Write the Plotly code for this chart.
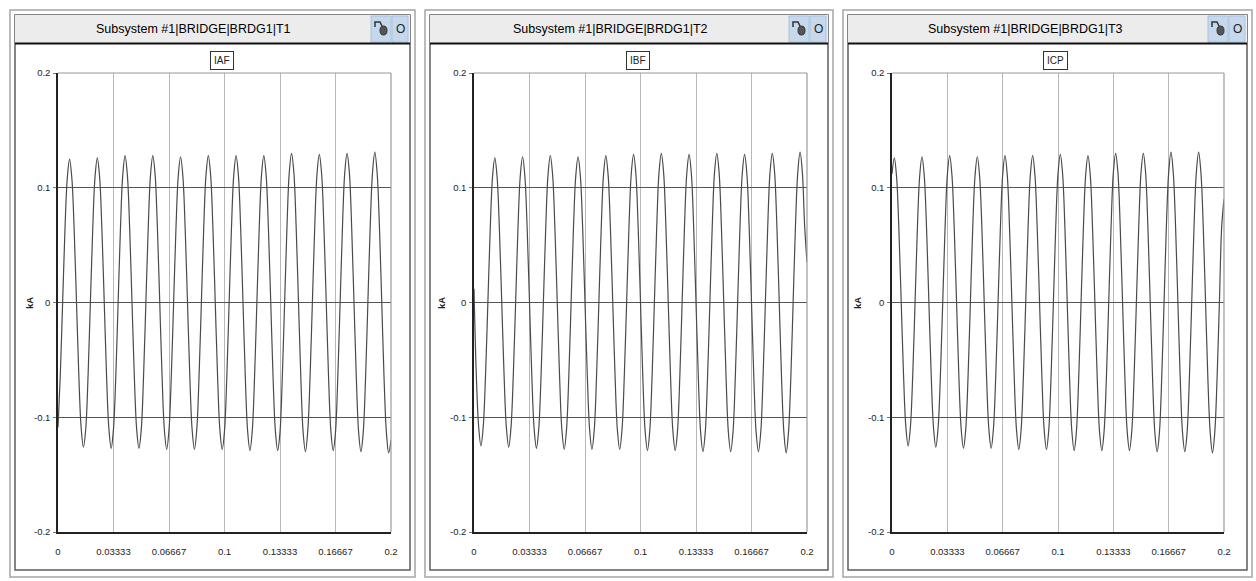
import plotly.graph_objects as go

# ---------------- data (kA), sampled every 1/720 s from 0 to 0.2 s ----------------
sample_step_s = 1 / 720
iaf_kA = [
    -0.109, -0.063, 0.000, 0.063, 0.108, 0.125, 0.108, 0.063, 0.000, -0.063, -0.109, -0.126,
    -0.110, -0.064, 0.000, 0.063, 0.109, 0.126, 0.109, 0.063, 0.000, -0.064, -0.110, -0.127,
    -0.110, -0.064, 0.000, 0.064, 0.111, 0.128, 0.111, 0.064, 0.000, -0.064, -0.110, -0.127,
    -0.111, -0.064, 0.000, 0.064, 0.111, 0.128, 0.111, 0.064, 0.000, -0.064, -0.111, -0.128,
    -0.111, -0.064, 0.000, 0.064, 0.110, 0.127, 0.110, 0.064, 0.000, -0.064, -0.111, -0.128,
    -0.111, -0.064, 0.000, 0.064, 0.111, 0.128, 0.111, 0.064, 0.000, -0.064, -0.111, -0.128,
    -0.112, -0.065, 0.000, 0.064, 0.111, 0.128, 0.111, 0.064, 0.000, -0.065, -0.112, -0.129,
    -0.112, -0.065, 0.000, 0.064, 0.111, 0.128, 0.111, 0.064, 0.000, -0.065, -0.112, -0.129,
    -0.113, -0.065, 0.000, 0.065, 0.113, 0.130, 0.113, 0.065, 0.000, -0.065, -0.113, -0.130,
    -0.112, -0.065, 0.000, 0.065, 0.112, 0.129, 0.112, 0.065, 0.000, -0.065, -0.112, -0.129,
    -0.113, -0.065, 0.000, 0.065, 0.113, 0.130, 0.113, 0.065, 0.000, -0.065, -0.113, -0.130,
    -0.113, -0.066, 0.000, 0.066, 0.113, 0.131, 0.113, 0.066, 0.000, -0.066, -0.113, -0.131,
    -0.120,
]
ibf_kA = [
    0.012, -0.063, -0.108, -0.125, -0.108, -0.063, 0.000, 0.063, 0.109, 0.126, 0.109, 0.063,
    0.000, -0.063, -0.109, -0.126, -0.109, -0.063, 0.000, 0.064, 0.110, 0.127, 0.110, 0.064,
    0.000, -0.064, -0.110, -0.127, -0.110, -0.064, 0.000, 0.064, 0.111, 0.128, 0.111, 0.064,
    0.000, -0.064, -0.111, -0.128, -0.111, -0.064, 0.000, 0.064, 0.110, 0.127, 0.110, 0.064,
    0.000, -0.064, -0.111, -0.128, -0.111, -0.064, 0.000, 0.064, 0.111, 0.128, 0.111, 0.064,
    0.000, -0.064, -0.111, -0.128, -0.111, -0.064, 0.000, 0.065, 0.112, 0.129, 0.112, 0.065,
    0.000, -0.065, -0.112, -0.129, -0.112, -0.065, 0.000, 0.065, 0.113, 0.130, 0.113, 0.065,
    0.000, -0.065, -0.112, -0.129, -0.112, -0.065, 0.000, 0.065, 0.112, 0.129, 0.112, 0.065,
    0.000, -0.065, -0.113, -0.130, -0.113, -0.065, 0.000, 0.065, 0.113, 0.130, 0.113, 0.065,
    0.000, -0.065, -0.113, -0.130, -0.113, -0.065, 0.000, 0.065, 0.112, 0.129, 0.112, 0.065,
    0.000, -0.065, -0.113, -0.130, -0.113, -0.065, 0.000, 0.065, 0.113, 0.130, 0.113, 0.065,
    0.000, -0.066, -0.113, -0.131, -0.113, -0.066, 0.000, 0.066, 0.113, 0.131, 0.113, 0.066,
    0.035,
]
icp_kA = [
    0.112, 0.126, 0.109, 0.063, 0.000, -0.063, -0.108, -0.125, -0.108, -0.063, 0.000, 0.064,
    0.110, 0.127, 0.110, 0.064, 0.000, -0.063, -0.109, -0.126, -0.109, -0.063, 0.000, 0.064,
    0.111, 0.128, 0.111, 0.064, 0.000, -0.064, -0.110, -0.127, -0.110, -0.064, 0.000, 0.064,
    0.110, 0.127, 0.110, 0.064, 0.000, -0.064, -0.110, -0.127, -0.110, -0.064, 0.000, 0.064,
    0.111, 0.128, 0.111, 0.064, 0.000, -0.064, -0.111, -0.128, -0.111, -0.064, 0.000, 0.064,
    0.111, 0.128, 0.111, 0.064, 0.000, -0.064, -0.111, -0.128, -0.111, -0.064, 0.000, 0.065,
    0.112, 0.129, 0.112, 0.065, 0.000, -0.065, -0.112, -0.129, -0.112, -0.065, 0.000, 0.064,
    0.111, 0.128, 0.111, 0.064, 0.000, -0.065, -0.112, -0.129, -0.112, -0.065, 0.000, 0.065,
    0.113, 0.130, 0.113, 0.065, 0.000, -0.065, -0.112, -0.129, -0.112, -0.065, 0.000, 0.065,
    0.113, 0.130, 0.113, 0.065, 0.000, -0.065, -0.113, -0.130, -0.113, -0.065, 0.000, 0.066,
    0.113, 0.131, 0.113, 0.066, 0.000, -0.065, -0.113, -0.130, -0.113, -0.065, 0.000, 0.066,
    0.113, 0.131, 0.113, 0.066, 0.000, -0.066, -0.113, -0.131, -0.113, -0.066, 0.000, 0.066,
    0.090,
]
time_s = [i * sample_step_s for i in range(len(iaf_kA))]

panel_titles = ["Subsystem #1|BRIDGE|BRDG1|T1", "Subsystem #1|BRIDGE|BRDG1|T2", "Subsystem #1|BRIDGE|BRDG1|T3"]
signal_names = ["IAF", "IBF", "ICP"]
signals = [iaf_kA, ibf_kA, icp_kA]
x_tick_vals = [0, 1 / 30, 2 / 30, 0.1, 4 / 30, 5 / 30, 0.2]
x_tick_text = ["0", "0.03333", "0.06667", "0.1", "0.13333", "0.16667", "0.2"]
y_tick_vals = [-0.2, -0.1, 0, 0.1, 0.2]
y_tick_text = ["-0.2", "-0.1", "0", "0.1", "0.2"]
y_unit = "kA"

# ---------------- layout geometry (pixels) ----------------
W, H = 1256, 581
def fx(p):
    return p / W
def fy(p):
    return 1 - p / H

plot_x = [(58, 391), (474, 807), (892, 1224)]
plot_y = (73, 532)
frames = [(10, 415), (425, 833), (843, 1252)]
title_cx = [193, 610, 1025]
unit_x = [30, 442, 858]

FONT = "Liberation Sans, Arial, sans-serif"

fig = go.Figure()
shapes = []
annotations = []

def note(x, y, text, size, **kw):
    d = dict(xref="paper", yref="paper", x=fx(x), y=fy(y), text=text, showarrow=False,
             xanchor="center", yanchor="middle", font=dict(family=FONT, size=size, color="#222"))
    d.update(kw)
    annotations.append(d)

for i in range(3):
    ax = "" if i == 0 else str(i + 1)
    fig.add_trace(go.Scatter(
        x=time_s, y=signals[i], mode="lines", name=signal_names[i],
        line=dict(color="#4a4a4a", width=1.2, shape="spline", smoothing=1.0),
        xaxis="x" + ax, yaxis="y" + ax, showlegend=False, hoverinfo="skip",
    ))
    fig.update_layout(**{
        "xaxis" + ax: dict(
            domain=[fx(plot_x[i][0]), fx(plot_x[i][1])], range=[0, 0.2], anchor="y" + ax,
            automargin=False,
            tickvals=x_tick_vals, ticktext=x_tick_text, ticks="", ticklabelstandoff=10,
            tickfont=dict(family=FONT, size=9.5, color="#222"),
            showgrid=True, gridcolor="#b8b8b8", gridwidth=1,
            showline=True, linecolor="#222", linewidth=1.5, zeroline=False, fixedrange=True,
        ),
        "yaxis" + ax: dict(
            domain=[fy(plot_y[1]), fy(plot_y[0])], range=[-0.2, 0.2], anchor="x" + ax,
            automargin=False,
            tickvals=y_tick_vals, ticktext=y_tick_text, ticks="outside", ticklen=3, tickcolor="#777",
            ticklabelstandoff=1,
            tickfont=dict(family=FONT, size=9.5, color="#222"),
            showgrid=True, gridcolor="#555", gridwidth=1,
            zeroline=True, zerolinecolor="#555", zerolinewidth=1,
            showline=True, linecolor="#222", linewidth=1.5, fixedrange=True,
        ),
    })

    # plot box top/right edges (gray)
    shapes.append(dict(type="line", xref="paper", yref="paper", x0=fx(plot_x[i][0]), x1=fx(plot_x[i][1]),
                       y0=fy(plot_y[0]), y1=fy(plot_y[0]), line=dict(color="#9a9a9a", width=1.2), layer="above"))
    shapes.append(dict(type="line", xref="paper", yref="paper", x0=fx(plot_x[i][1]), x1=fx(plot_x[i][1]),
                       y0=fy(plot_y[0]), y1=fy(plot_y[1]), line=dict(color="#9a9a9a", width=1.2), layer="above"))

    # window frame (double line)
    L, R = frames[i]
    shapes.append(dict(type="rect", xref="paper", yref="paper", x0=fx(L), x1=fx(R), y0=fy(577), y1=fy(10),
                       line=dict(color="#a5a5a5", width=1.5), layer="below"))
    shapes.append(dict(type="rect", xref="paper", yref="paper", x0=fx(L + 5), x1=fx(R - 5), y0=fy(570), y1=fy(15),
                       line=dict(color="#5c5c5c", width=1.5), layer="below"))
    # title bar
    shapes.append(dict(type="rect", xref="paper", yref="paper", x0=fx(L + 5), x1=fx(R - 5), y0=fy(43), y1=fy(15),
                       fillcolor="#ececec", line=dict(width=0), layer="below"))
    shapes.append(dict(type="line", xref="paper", yref="paper", x0=fx(L + 5), x1=fx(R - 5), y0=fy(43.5), y1=fy(43.5),
                       line=dict(color="#111", width=2), layer="above"))
    # title bar icons
    shapes.append(dict(type="rect", xref="paper", yref="paper", x0=fx(R - 44), x1=fx(R - 24), y0=fy(42), y1=fy(16),
                       fillcolor="#c6d9ec", line=dict(color="#aac2dc", width=1), layer="below"))
    shapes.append(dict(type="rect", xref="paper", yref="paper", x0=fx(R - 23), x1=fx(R - 7), y0=fy(42), y1=fy(16),
                       fillcolor="#c6d9ec", line=dict(color="#aac2dc", width=1), layer="below"))
    shapes.append(dict(type="circle", xref="paper", yref="paper", x0=fx(R - 35), x1=fx(R - 28), y0=fy(35), y1=fy(26),
                       fillcolor="#555", line=dict(color="#333", width=1), layer="above"))
    shapes.append(dict(type="path", xref="paper", yref="paper",
                       path=f"M {fx(R-40)} {fy(27)} L {fx(R-40)} {fy(22)} L {fx(R-35)} {fy(22)} L {fx(R-33)} {fy(26)}",
                       line=dict(color="#333", width=1.5), layer="above"))
    note(R - 15, 29, "O", 12)

    # title text
    note(title_cx[i], 29, panel_titles[i], 12.5, font=dict(family=FONT, size=12.5, color="#000"))
    # signal name box
    note((plot_x[i][0] + plot_x[i][1]) / 2 - 3, 61, signal_names[i], 10,
         bordercolor="#333", borderwidth=1, borderpad=3, bgcolor="white")
    # unit label
    note(unit_x[i], 303, "<b>" + y_unit + "</b>", 9.5, textangle=-90)

fig.update_layout(
    template="none",
    width=W, height=H, margin=dict(l=0, r=0, t=0, b=0, autoexpand=False),
    paper_bgcolor="white", plot_bgcolor="white",
    shapes=shapes, annotations=annotations,
)
fig.write_html("out.html", config={"displayModeBar": False},
               post_script="document.body.style.margin='0';document.body.style.overflow='hidden';")
